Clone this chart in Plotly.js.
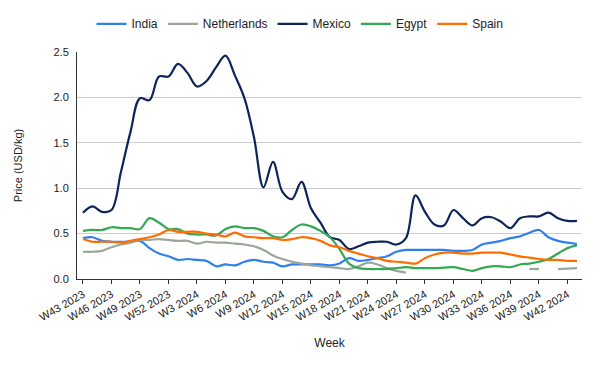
<!DOCTYPE html>
<html>
<head>
<meta charset="utf-8">
<script src="https://cdn.plot.ly/plotly-3.0.1.min.js"></script>
<style>html,body{margin:0;padding:0;background:#fff;}#chart{width:600px;height:371px;}</style>
</head>
<body>
<div id="chart"></div>
<script>
const weeks = [
  "W43 2023","W44 2023","W45 2023","W46 2023","W47 2023","W48 2023","W49 2023","W50 2023","W51 2023","W52 2023",
  "W1 2024","W2 2024","W3 2024","W4 2024","W5 2024","W6 2024","W7 2024","W8 2024","W9 2024","W10 2024",
  "W11 2024","W12 2024","W13 2024","W14 2024","W15 2024","W16 2024","W17 2024","W18 2024","W19 2024","W20 2024",
  "W21 2024","W22 2024","W23 2024","W24 2024","W25 2024","W26 2024","W27 2024","W28 2024","W29 2024","W30 2024",
  "W31 2024","W32 2024","W33 2024","W34 2024","W35 2024","W36 2024","W37 2024","W38 2024","W39 2024","W40 2024",
  "W41 2024","W42 2024","W43 2024"
];
const tickLabels = ["W43 2023","W46 2023","W49 2023","W52 2023","W3 2024","W6 2024","W9 2024","W12 2024","W15 2024",
  "W18 2024","W21 2024","W24 2024","W27 2024","W30 2024","W33 2024","W36 2024","W39 2024","W42 2024"];

const india = [0.45,0.46,0.42,0.41,0.41,0.41,0.42,0.34,0.28,0.25,
  0.21,0.22,0.21,0.20,0.14,0.16,0.15,0.19,0.21,0.19,
  0.18,0.14,0.16,0.16,0.16,0.16,0.15,0.17,0.23,0.20,
  0.21,0.23,0.25,0.30,0.32,0.32,0.32,0.32,0.32,0.31,
  0.31,0.32,0.38,0.40,0.42,0.45,0.47,0.51,0.54,0.46,
  0.42,0.40,0.385];
const netherlands = [0.30,0.30,0.31,0.35,0.38,0.40,0.43,0.43,0.44,0.43,
  0.42,0.42,0.39,0.41,0.40,0.40,0.39,0.38,0.36,0.32,
  0.26,0.22,0.19,0.17,0.15,0.14,0.13,0.12,0.11,0.14,
  0.18,0.16,0.12,0.09,0.07,null,null,null,null,null,
  null,null,null,null,null,null,null,0.11,0.11,null,
  0.11,0.115,0.12];
const mexico = [0.73,0.80,0.74,0.76,1.18,1.62,1.99,1.97,2.23,2.23,
  2.37,2.27,2.12,2.18,2.33,2.46,2.24,1.99,1.56,1.01,
  1.29,0.96,0.88,1.07,0.78,0.62,0.46,0.43,0.33,0.36,
  0.40,0.41,0.41,0.38,0.45,0.92,0.74,0.60,0.59,0.76,
  0.67,0.59,0.67,0.68,0.63,0.56,0.67,0.69,0.69,0.73,
  0.67,0.64,0.64];
const egypt = [0.53,0.54,0.54,0.57,0.56,0.56,0.55,0.67,0.62,0.55,
  0.55,0.50,0.49,0.49,0.48,0.55,0.58,0.56,0.56,0.53,
  0.47,0.46,0.54,0.60,0.58,0.53,0.46,0.33,0.17,0.12,
  0.11,0.11,0.11,0.12,0.13,0.12,0.12,0.12,0.125,0.13,
  0.11,0.09,0.12,0.14,0.14,0.13,0.16,0.17,0.19,0.22,
  0.28,0.34,0.37];
const spain = [0.44,0.41,0.41,0.41,0.40,0.42,0.44,0.46,0.49,0.54,
  0.52,0.52,0.52,0.50,0.49,0.47,0.51,0.47,0.46,0.45,
  0.45,0.43,0.44,0.46,0.45,0.42,0.37,0.35,0.31,0.28,
  0.25,0.23,0.20,0.19,0.18,0.17,0.23,0.27,0.29,0.29,
  0.28,0.28,0.29,0.29,0.29,0.27,0.25,0.235,0.22,0.21,
  0.21,0.20,0.20];

const seriesNames = ["India","Netherlands","Mexico","Egypt","Spain"];
const seriesValues = [india, netherlands, mexico, egypt, spain];
const seriesColors = ["#2F7FEE","#9AA69A","#0C2459","#34A853","#FF6D01"];

const traces = seriesNames.map((name, k) => ({
  type: "scatter",
  mode: "lines",
  name: name,
  x: weeks,
  y: seriesValues[k],
  connectgaps: false,
  line: {color: seriesColors[k], width: 2.2, shape: "spline", smoothing: 1},
  hoverinfo: "x+y+name"
}));

const font = {family: "'Liberation Sans', Arial, sans-serif", size: 11, color: "#222"};

const layout = {
  width: 600, height: 371,
  margin: {l: 77, r: 18, t: 52, b: 92},
  paper_bgcolor: "#fff", plot_bgcolor: "#fff",
  font: font,
  showlegend: true,
  legend: {
    orientation: "h", xref: "container", yref: "container",
    x: 0.5, xanchor: "center", y: 0.975, yanchor: "top",
    font: {family: font.family, size: 12, color: "#222"},
    itemwidth: 30
  },
  xaxis: {
    type: "category",
    range: [-0.63, 52.53],
    tickmode: "array",
    tickvals: tickLabels,
    ticktext: tickLabels,
    tickangle: -30,
    ticks: "outside", ticklen: 4, tickcolor: "#333",
    showgrid: false, zeroline: false,
    showline: true, linecolor: "#333", linewidth: 1,
    tickfont: {family: font.family, size: 11, color: "#222"},
    title: {text: "Week", font: {family: font.family, size: 12, color: "#222"}, standoff: 16},
    automargin: false, fixedrange: true
  },
  yaxis: {
    range: [0, 2.5],
    tickvals: [0, 0.5, 1.0, 1.5, 2.0, 2.5],
    tickformat: ".1f",
    showgrid: true, gridcolor: "#cccccc", gridwidth: 1,
    zeroline: false,
    showline: true, linecolor: "#333", linewidth: 1,
    ticks: "", ticklabelstandoff: 5,
    tickfont: {family: font.family, size: 11, color: "#222"},
    title: {text: "Price (USD/kg)", font: {family: font.family, size: 11, color: "#222"}, standoff: 28},
    automargin: false, fixedrange: true
  }
};

Plotly.newPlot("chart", traces, layout, {displayModeBar: false, staticPlot: true});
</script>
</body>
</html>
